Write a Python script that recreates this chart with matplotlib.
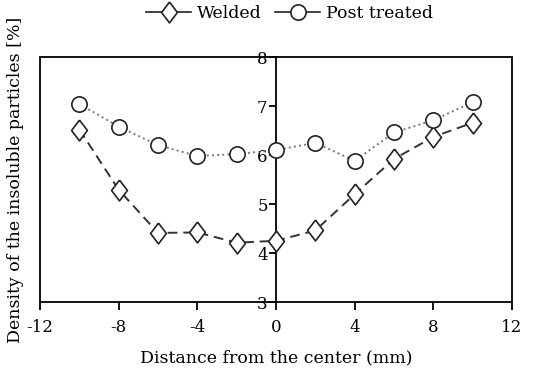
import numpy as np
import matplotlib.pyplot as plt
from matplotlib.lines import Line2D
from matplotlib.patches import Rectangle

plt.rcParams['font.family'] = ['DejaVu Serif']
plt.rcParams['axes.unicode_minus'] = False

# distance from the weld center (mm)
distance = [-10, -8, -6, -4, -2, 0, 2, 4, 6, 8, 10]
# density of insoluble particles (%)
welded = [6.52, 5.29, 4.41, 4.42, 4.21, 4.25, 4.46, 5.20, 5.92, 6.37, 6.66]
post_treated = [7.04, 6.58, 6.20, 5.98, 6.02, 6.10, 6.25, 5.88, 6.46, 6.71, 7.08]

x_ticks = [-12, -8, -4, 0, 4, 8, 12]
y_ticks = [3, 4, 5, 6, 7, 8]

# slightly narrow diamond, like the original marker
diamond = [(0, 1), (0.76, 0), (0, -1), (-0.76, 0), (0, 1)]

fig = plt.figure(figsize=(5.41, 3.74), dpi=100)
ax = fig.add_axes([0.074, 0.1925, 0.8725, 0.655])

ax.plot(distance, welded, '--', color='#333333', lw=1.4, dashes=(5, 3),
        marker=diamond, ms=15, mfc='white', mec='#222222', mew=1.2, zorder=3)
ax.plot(distance, post_treated, ':', color='#777777', lw=1.4,
        marker='o', ms=11, mfc='white', mec='#222222', mew=1.2, zorder=3)

ax.set_xlim(-12, 12)
ax.set_ylim(3, 8)
ax.set_xticks(x_ticks)
ax.set_yticks(y_ticks)

# y axis goes through the center, frame drawn around the plot area
ax.spines['left'].set_position(('data', 0))
ax.spines['left'].set_linewidth(1.3)
for s in ['top', 'right', 'bottom']:
    ax.spines[s].set_visible(False)
ax.add_patch(Rectangle((0, 0), 1, 1, transform=ax.transAxes, fill=False,
                       lw=1.3, ec='black', clip_on=False, zorder=4))

ax.tick_params(axis='x', direction='out', length=6, width=1.3, pad=6, labelsize=12)
ax.tick_params(axis='y', direction='out', length=5, width=1.3, pad=1, labelsize=12)
for lbl in ax.get_yticklabels():
    lbl.set_zorder(5)

ax.set_xlabel('Distance from the center (mm)', fontsize=12.5, labelpad=10)
fig.text(0.028, 0.52, 'Density of the insoluble particles [%]', rotation=90,
         ha='center', va='center', fontsize=12.5)

handles = [
    Line2D([], [], color='#222222', lw=1.2, marker=diamond, ms=15, mfc='white', mec='#222222', mew=1.2),
    Line2D([], [], color='#222222', lw=1.2, marker='o', ms=11, mfc='white', mec='#222222', mew=1.2),
]
fig.legend(handles, ['Welded', 'Post treated'], loc='center', bbox_to_anchor=(0.535, 0.965),
           ncol=2, frameon=False, fontsize=12.5, handlelength=2.6, columnspacing=0.8,
           handletextpad=0.3)

fig.savefig('out.png', dpi=100)
